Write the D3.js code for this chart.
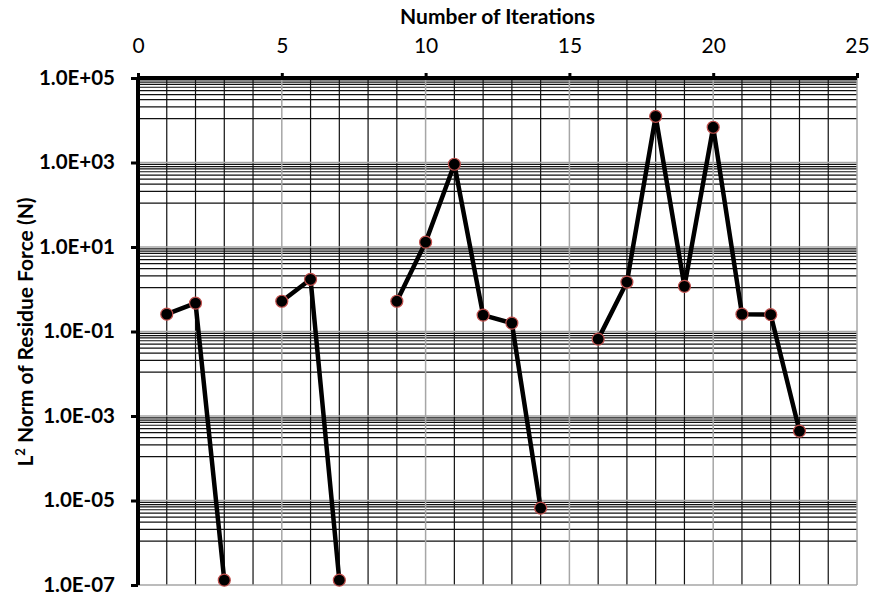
<!DOCTYPE html>
<html>
<head>
<meta charset="utf-8">
<script src="https://cdn.jsdelivr.net/npm/d3@7"></script>
<style>
  body { margin: 0; background: #fff; }
  text { font-family: Lato, "Open Sans", sans-serif; fill: #000; }
</style>
</head>
<body>
<div id="chart"></div>
<script>
// values (null = no point for that iteration)
const iterations = [1, 2, 3, 4, 5, 6, 7, 8, 9, 10, 11, 12, 13, 14, 15, 16, 17, 18, 19, 20, 21, 22, 23];
const residue = [0.257, 0.47, 1.3e-7, null, 0.52, 1.72, 1.3e-7, null, 0.52, 13, 908, 0.245, 0.158,
  6.6e-6, null, 0.066, 1.48, 12400, 1.17, 6820, 0.257, 0.25, 4.4e-4];
const xTicks = [0, 5, 10, 15, 20, 25];
const yTicks = [1e5, 1e3, 1e1, 1e-1, 1e-3, 1e-5, 1e-7];

const W = 870, H = 595;
const margin = { top: 78, right: 13, bottom: 10, left: 138 };
const width = W - margin.left - margin.right;
const height = 585 - margin.top;

const data = iterations.map((d, i) => ({ it: d, v: residue[i] }));

const svg = d3.select("#chart").append("svg")
  .attr("width", W).attr("height", H);

const g = svg.append("g")
  .attr("transform", "translate(" + margin.left + "," + margin.top + ")");

const x = d3.scaleLinear().domain([0, 25]).range([0, width]);
const y = d3.scaleLog().domain([1e-7, 1e5]).range([height, 0]);

// minor gridlines: excel style, 9 linear steps between two majors (base 100)
var minorY = [];
for (let k = -7; k < 5; k += 2) {
  const lo = Math.pow(10, k), hi = Math.pow(10, k + 2);
  for (let j = 1; j < 10; j++) minorY.push(lo + j * (hi - lo) / 10);
}
var minorX = d3.range(1, 25).filter((d) => d % 5 != 0);

g.append("g").attr("class", "minor-y")
  .selectAll("line").data(minorY).enter().append("line")
  .attr("x1", 0).attr("x2", width)
  .attr("y1", (d) => y(d)).attr("y2", (d) => y(d))
  .attr("stroke", "#111").attr("stroke-width", 1.2);

g.append("g").attr("class", "minor-x")
  .selectAll("line").data(minorX).enter().append("line")
  .attr("y1", 0).attr("y2", height)
  .attr("x1", (d) => x(d)).attr("x2", (d) => x(d))
  .attr("stroke", "#111").attr("stroke-width", 1.2);

// major gridlines in light grey
g.append("g").attr("class", "major-y")
  .selectAll("line").data(yTicks).enter().append("line")
  .attr("x1", 0).attr("x2", width)
  .attr("y1", (d) => y(d)).attr("y2", (d) => y(d))
  .attr("stroke", "#a6a6a6").attr("stroke-width", 1.5);

g.append("g").attr("class", "major-x")
  .selectAll("line").data(xTicks.slice(1)).enter().append("line")
  .attr("y1", 0).attr("y2", height)
  .attr("x1", (d) => x(d)).attr("x2", (d) => x(d))
  .attr("stroke", "#a6a6a6").attr("stroke-width", 1.5);

// axes
const xAxis = d3.axisTop(x).tickValues(xTicks).tickSize(5).tickPadding(20)
  .tickFormat(d3.format("d"));
const gx = g.append("g").call(xAxis);
gx.select(".domain").attr("stroke", "#000").attr("stroke-width", 4).attr("d", "M0,0H" + width);
gx.selectAll(".tick line").attr("stroke", "#000").attr("stroke-width", 3);
gx.selectAll("text").style("font-size", "21px").attr("dy", "0");

const yAxis = d3.axisLeft(y).tickValues(yTicks).tickSize(7).tickPadding(16)
  .tickFormat((d) => d.toExponential(1).toUpperCase().replace(/E([+-])(\d)$/, "E$10$2"));
const gy = g.append("g").call(yAxis);
gy.select(".domain").attr("stroke", "#000").attr("stroke-width", 4).attr("d", "M0,0V" + height);
gy.selectAll(".tick line").attr("stroke", "#000").attr("stroke-width", 3);
gy.selectAll("text").style("font-size", "20.5px").style("font-weight", "bold").attr("dy", "0.3em");

// series
const line = d3.line()
  .defined((d) => d.v != null)
  .x((d) => x(d.it))
  .y((d) => y(d.v));

g.append("path").datum(data)
  .attr("d", line)
  .attr("fill", "none")
  .attr("stroke", "#000")
  .attr("stroke-width", 4.5)
  .attr("stroke-linejoin", "round");

g.append("g").selectAll("circle")
  .data(data.filter((d) => d.v != null)).enter().append("circle")
  .attr("cx", (d) => x(d.it)).attr("cy", (d) => y(d.v))
  .attr("r", 6)
  .attr("fill", "#000")
  .attr("stroke", "#c0504d")
  .attr("stroke-width", 1.2);

// titles
svg.append("text")
  .attr("x", margin.left + width / 2).attr("y", 24)
  .attr("text-anchor", "middle")
  .style("font-size", "21px").style("font-weight", "bold")
  .text("Number of Iterations");

svg.append("text")
  .attr("transform", "translate(33," + (margin.top + 254) + ") rotate(-90)")
  .attr("text-anchor", "middle")
  .style("font-size", "21px").style("font-weight", "bold")
  .html('L<tspan dy="-8" style="font-size:13px">2</tspan><tspan dy="8"> Norm of Residue Force (N)</tspan>');
</script>
</body>
</html>
